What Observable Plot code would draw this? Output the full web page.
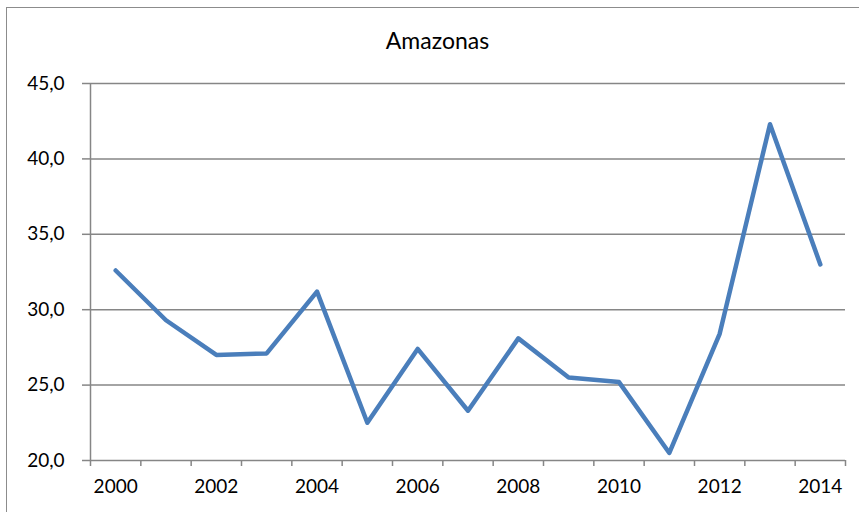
<!DOCTYPE html>
<html>
<head>
<meta charset="utf-8">
<script src="https://cdn.jsdelivr.net/npm/d3@7"></script>
<script src="https://cdn.jsdelivr.net/npm/@observablehq/plot@0.6"></script>
<style>
  html, body { margin: 0; padding: 0; background: #fff; }
  #wrap { position: relative; width: 859px; height: 512px; overflow: hidden; font-family: Lato, "Open Sans", sans-serif; }
  #frame { position: absolute; left: 6px; top: 7px; width: 900px; height: 600px; border-left: 1px solid #8c8c8c; border-top: 1px solid #8c8c8c; box-sizing: border-box; }
  #title { position: absolute; left: 8px; top: 27px; width: 859px; text-align: center; font-size: 23px; color: #000; height: 26px; line-height: 26px; }
  #chart { position: absolute; left: 0; top: 0; }
</style>
</head>
<body>
<div id="wrap">
  <div id="frame"></div>
  <div id="chart"></div>
  <div id="title">Amazonas</div>
</div>
<script>
const years = [2000, 2001, 2002, 2003, 2004, 2005, 2006, 2007, 2008, 2009, 2010, 2011, 2012, 2013, 2014];
const values = [32.6, 29.3, 27.0, 27.1, 31.2, 22.5, 27.4, 23.3, 28.1, 25.5, 25.2, 20.5, 28.4, 42.3, 33.0];
const yTicks = [20, 25, 30, 35, 40, 45];
const xLabelYears = [2000, 2002, 2004, 2006, 2008, 2010, 2012, 2014];
const xTickBoundaries = [1999.5, 2000.5, 2001.5, 2002.5, 2003.5, 2004.5, 2005.5, 2006.5, 2007.5, 2008.5, 2009.5, 2010.5, 2011.5, 2012.5, 2013.5, 2014.5];

const data = years.map((y, i) => ({year: y, value: values[i]}));
const fmt = d => d.toFixed(1).replace(".", ",");

const plot = Plot.plot({
  width: 859,
  height: 512,
  marginLeft: 90,
  marginRight: 14,
  marginTop: 83,
  marginBottom: 52,
  style: {background: "transparent", fontFamily: "Lato, 'Open Sans', sans-serif", fontSize: "19px", color: "#000"},
  x: {type: "linear", domain: [1999.5, 2014.5]},
  y: {domain: [20, 45]},
  marks: [
    Plot.gridY(yTicks, {stroke: "#868686", strokeOpacity: 1, strokeWidth: 1.5}),
    Plot.axisY(yTicks, {tickSize: 8, stroke: "#868686", strokeWidth: 1.5, tickFormat: fmt, tickPadding: 18, fontSize: 19, fill: "#000", label: null}),
    Plot.ruleX([1999.5], {stroke: "#868686", strokeWidth: 1.5}),
    Plot.axisX(xTickBoundaries, {tickSize: 6, stroke: "#868686", strokeWidth: 1.5, tickFormat: () => "", label: null}),
    Plot.axisX(xLabelYears, {tickSize: 0, tickPadding: 19, tickFormat: d => String(d), fontSize: 19, fill: "#000", label: null}),
    Plot.line(data, {x: "year", y: "value", stroke: "#4a7ebb", strokeWidth: 4.5, strokeLinejoin: "round", strokeLinecap: "round"})
  ]
});
document.getElementById("chart").appendChild(plot);
</script>
</body>
</html>
